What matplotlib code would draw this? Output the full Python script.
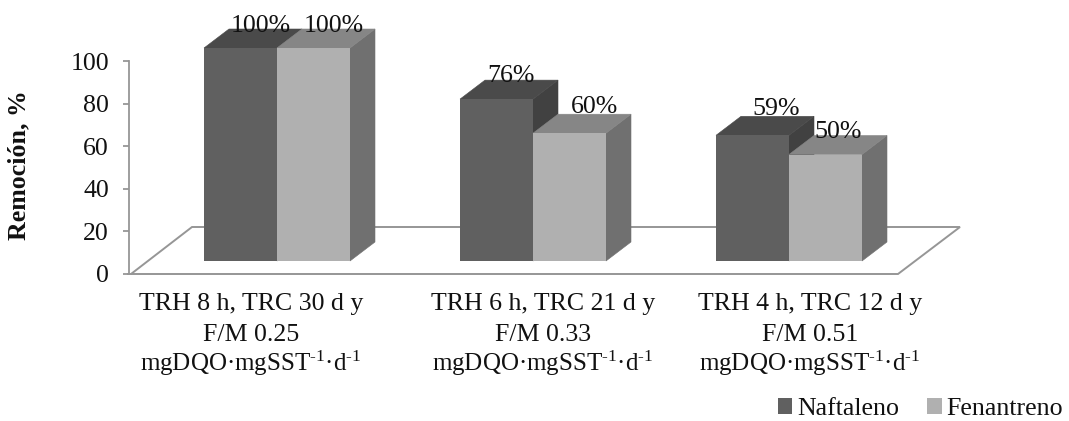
import numpy as np
import matplotlib
matplotlib.use("Agg")
import matplotlib.pyplot as plt
from matplotlib.patches import Patch, Polygon

plt.rcParams["font.family"] = ["Liberation Serif", "DejaVu Serif"]
plt.rcParams["mathtext.fontset"] = "custom"
plt.rcParams["mathtext.rm"] = "Liberation Serif"
plt.rcParams["mathtext.default"] = "regular"

categories = [
    "TRH 8 h, TRC 30 d y\nF/M 0.25\nmgDQO·mgSST$^{\\text{-}1}$·d$^{\\text{-}1}$",
    "TRH 6 h, TRC 21 d y\nF/M 0.33\nmgDQO·mgSST$^{\\text{-}1}$·d$^{\\text{-}1}$",
    "TRH 4 h, TRC 12 d y\nF/M 0.51\nmgDQO·mgSST$^{\\text{-}1}$·d$^{\\text{-}1}$",
]
naftaleno = [100, 76, 59]
fenantreno = [100, 60, 50]
yticks = [0, 20, 40, 60, 80, 100]

W, H = 1069, 421
FS = 18.6
GRAY = "#969696"

# px per data unit on each axis
sx = 256
sy = 2.13
dx = 25 / sx
dy = 19 / sy
base = 13 / sy
bar_w = 73 / sx

fig = plt.figure(figsize=(W / 100, H / 100), dpi=100)
ax = fig.add_axes([129 / W, (H - 274) / H, (960 - 129) / W, 213 / H])
ax.set_xlim((129 - 277) / sx, (960 - 277) / sx)
ax.set_ylim(0, 100)
ax.patch.set_visible(False)
for side in ["top", "right", "bottom"]:
    ax.spines[side].set_visible(False)
ax.spines["left"].set_color(GRAY)
ax.spines["left"].set_linewidth(1.3)
ax.set_xticks([])
ax.set_yticks(yticks)
ax.tick_params(axis="y", color=GRAY, width=1.3, length=4.5, labelsize=FS, pad=10, labelcolor="#111111")

# floor of the 3D box
x0, x1 = ax.get_xlim()
floor = Polygon(
    [(x0 + 2 / sx, 0), (x0 + 769 / sx, 0), (x1, 47 / sy), (x0 + 63 / sx, 47 / sy)],
    closed=True, fill=False, ec=GRAY, lw=1.4, clip_on=False, zorder=1,
)
ax.add_patch(floor)
ax.plot([x0 - 1 / sx, x0 + 2 / sx], [0, 0], color=GRAY, lw=1.4, clip_on=False, zorder=1)


def box(x_left, value, front, top, side, z):
    h = base + value
    x_right = x_left + bar_w
    ax.add_patch(Polygon(
        [(x_right, base), (x_right + dx, base + dy), (x_right + dx, h + dy), (x_right, h)],
        closed=True, fc=side, ec=side, lw=0.4, clip_on=False, zorder=z,
    ))
    ax.add_patch(Polygon(
        [(x_left, h), (x_right, h), (x_right + dx, h + dy), (x_left + dx, h + dy)],
        closed=True, fc=top, ec=top, lw=0.4, clip_on=False, zorder=z,
    ))
    ax.bar(x_left, value, bar_w, bottom=base, align="edge", color=front, lw=0, clip_on=False, zorder=z)


xs = np.arange(len(categories))
for i in xs:
    box(i - bar_w, naftaleno[i], "#606060", "#4a4a4a", "#414141", 3 + i * 2)
    box(i, fenantreno[i], "#b0b0b0", "#868686", "#707070", 4 + i * 2)

# data labels, shifted by hand like in the original
nafta_off = [(20, 16), (14, 17), (24, 20)]
fena_off = [(20, 16), (25, 20), (13, 17)]
for i in xs:
    ax.annotate(f"{naftaleno[i]}%", (i - bar_w / 2, base + naftaleno[i]), xytext=nafta_off[i],
                textcoords="offset pixels", ha="center", va="baseline", fontsize=FS, color="#111111",
                zorder=20, annotation_clip=False)
    ax.annotate(f"{fenantreno[i]}%", (i + bar_w / 2, base + fenantreno[i]), xytext=fena_off[i],
                textcoords="offset pixels", ha="center", va="baseline", fontsize=FS, color="#111111",
                zorder=20, annotation_clip=False)

# category labels, one line at a time so the superscripts don't push the spacing
label_px = [251, 543, 810]
line_y = [310, 341, 371]
line_fs = [FS, FS, 18]
for cat, px in zip(categories, label_px):
    for line, y, fs in zip(cat.split("\n"), line_y, line_fs):
        fig.text(px / W, 1 - y / H, line, ha="center", va="baseline", fontsize=fs, color="#111111")

ax.set_ylabel("Remoción, %", fontsize=FS, fontweight="bold", color="#111111")
ax.yaxis.set_label_coords((30 - 129) / 831, (274 - 165) / 213)

handles = [Patch(fc="#606060", lw=0, label="Naftaleno"), Patch(fc="#b0b0b0", lw=0, label="Fenantreno")]
fig.legend(handles=handles, loc="lower right", bbox_to_anchor=(1066 / W, 1 - 423 / H), ncol=2, frameon=False,
           fontsize=FS, handlelength=0.55, handleheight=0.55, handletextpad=0.2, columnspacing=1.08,
           borderpad=0.1, borderaxespad=0, labelcolor="#111111")

fig.savefig("out.png", dpi=100)
